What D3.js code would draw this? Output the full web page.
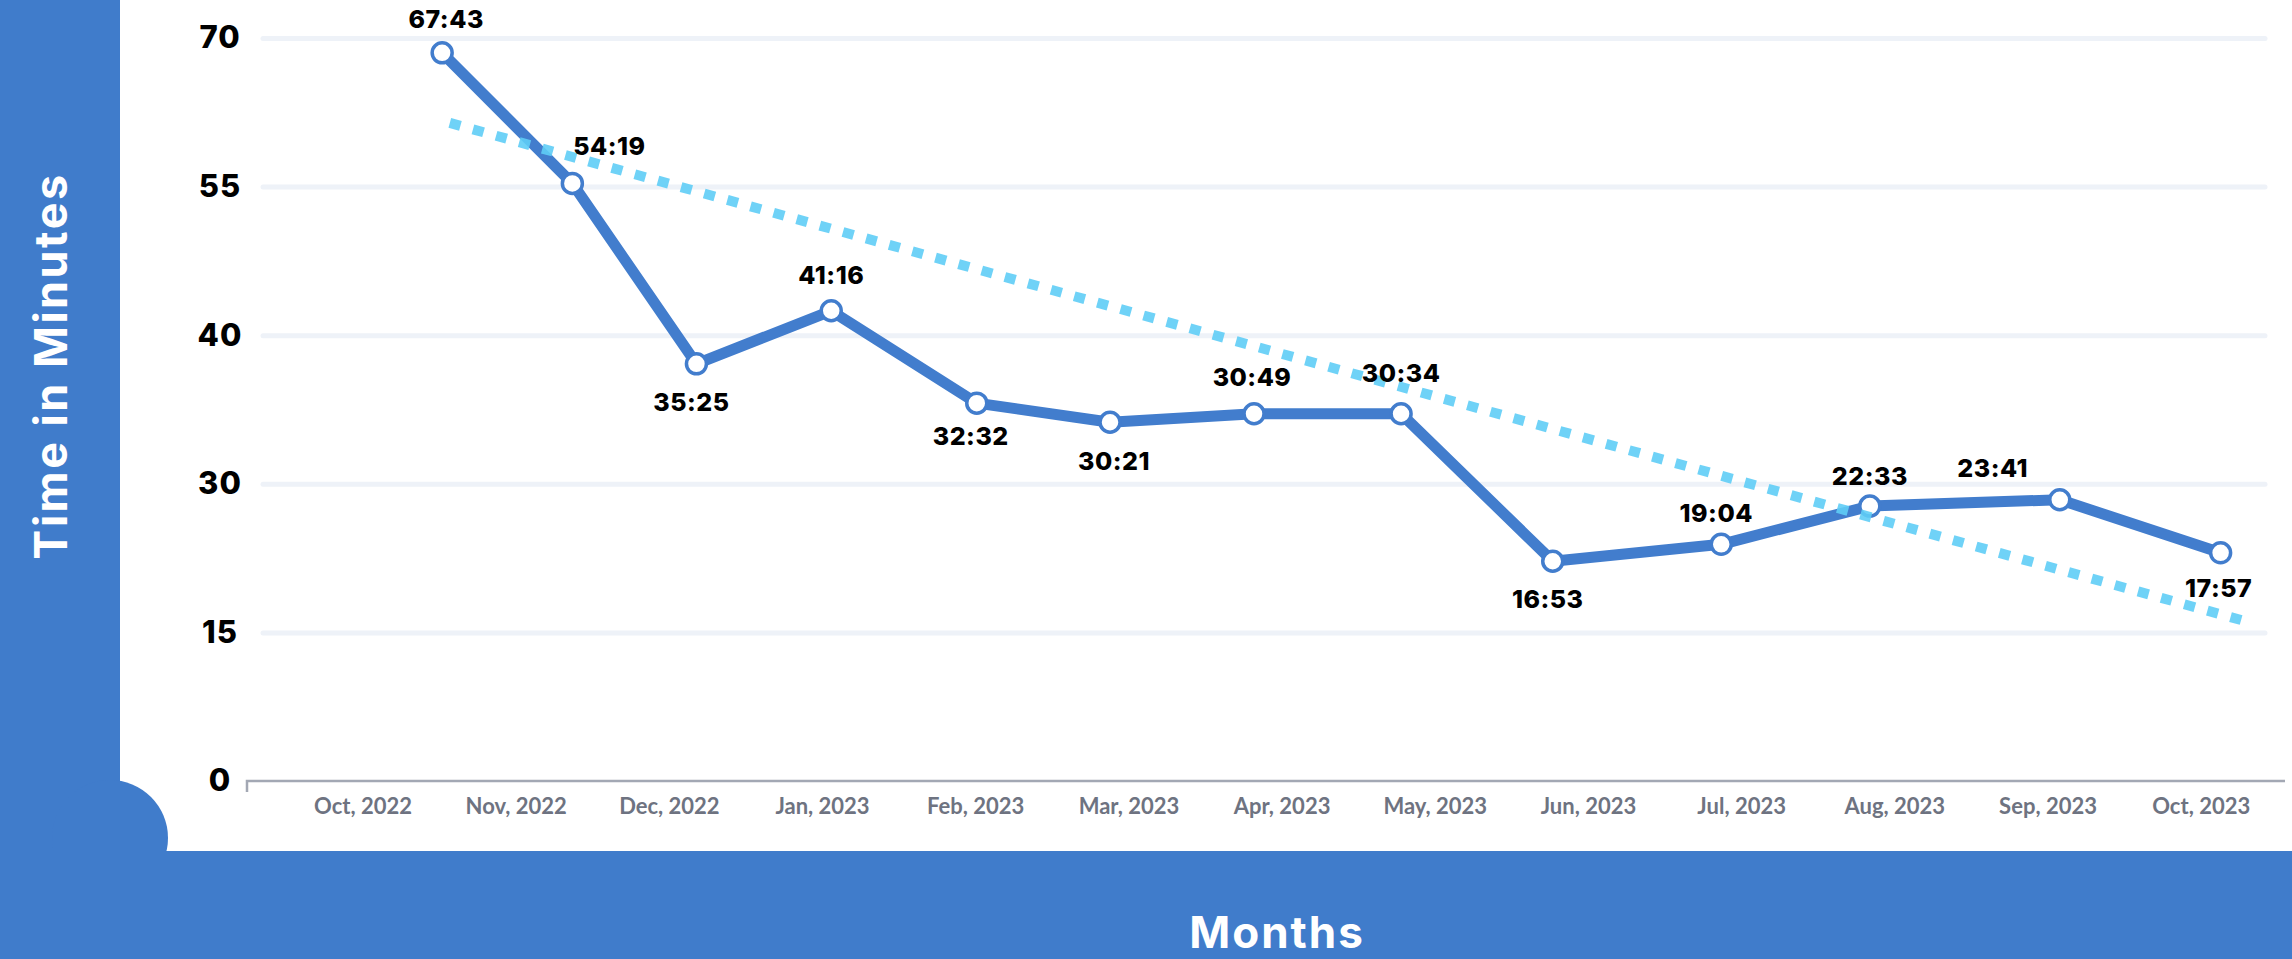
<!DOCTYPE html>
<html>
<head>
<meta charset="utf-8">
<script src="https://cdn.jsdelivr.net/npm/d3@7"></script>
<style>
  body { margin: 0; background: #fff; }
  svg { display: block; }
</style>
</head>
<body>
<div id="chart"></div>
<script>
// months on the x axis
const months = ["Oct, 2022", "Nov, 2022", "Dec, 2022", "Jan, 2023", "Feb, 2023", "Mar, 2023",
  "Apr, 2023", "May, 2023", "Jun, 2023", "Jul, 2023", "Aug, 2023", "Sep, 2023", "Oct, 2023"];

// where each point sits along the month axis
const pointPos = [0.52, 1.37, 2.18, 3.06, 4.01, 4.88, 5.82, 6.78, 7.77, 8.87, 9.84, 11.08, 12.13];

// plotted height of each point, in axis units
const plotted = [68.6, 56.3, 39.3, 44.3, 35.6, 33.8, 34.6, 34.6, 20.7, 22.3, 25.9, 26.5, 21.5];

// the value labels printed on the points (mm:ss)
const timeLabels = ["67:43", "54:19", "35:25", "41:16", "32:32", "30:21", "30:49",
  "30:34", "16:53", "19:04", "22:33", "23:41", "17:57"];

// y ticks and the text shown next to them
const yTickValues = [0, 14, 28, 42, 56, 70];
const yTickLabels = ["0", "15", "30", "40", "55", "70"];

// dotted trend line, start and end
const trendPos = [0.57, 12.28];
const trendVals = [62.0, 15.1];

// label placement (layout only)
const labelNudge = [[4, -34], [37, -37], [-5, 38], [0, -36], [-6, 33], [4, 39], [-2, -37],
  [0, -41], [-5, 38], [-5, -31], [0, -30], [-67, -32], [-2, 35]];

const W = 2292, H = 959;
const blue = "#407CCB";

const svg = d3.select("#chart").append("svg")
  .attr("width", W)
  .attr("height", H);

// blue frame: left strip, bottom band and the round bump
svg.append("rect").attr("x", 0).attr("y", 0).attr("width", 120).attr("height", 860).attr("fill", blue);
svg.append("circle").attr("cx", 110).attr("cy", 838).attr("r", 58).attr("fill", blue);
svg.append("rect").attr("x", 0).attr("y", 851).attr("width", W).attr("height", H - 851).attr("fill", blue);

const x = d3.scaleLinear().domain([0, 12]).range([362.5, 2200.7]);
const y = d3.scaleLinear().domain([0, 70]).range([781, 38]);

// grid lines
svg.append("g")
  .attr("transform", "translate(263,0)")
  .call(d3.axisLeft(y).tickValues(yTickValues.filter(v => v > 0)).tickSize(-(2265 - 263)).tickFormat(""))
  .call(g => g.select(".domain").remove())
  .call(g => g.selectAll("line")
    .attr("stroke", "#EEF2F8")
    .attr("stroke-width", 5)
    .attr("stroke-linecap", "round"));

// y tick labels
svg.append("g")
  .attr("transform", "translate(220,0)")
  .call(d3.axisLeft(y).tickValues(yTickValues).tickSize(0).tickPadding(0)
    .tickFormat((d, i) => yTickLabels[i]))
  .call(g => g.select(".domain").remove())
  .call(g => g.selectAll("text")
    .attr("text-anchor", "middle")
    .attr("font-family", "Inter, sans-serif")
    .attr("font-weight", 800)
    .attr("font-size", 31)
    .attr("letter-spacing", 1)
    .attr("fill", "#000"));

// x axis line with the little tick at the left end
svg.append("path")
  .attr("d", `M247,792V${y(0)}H2285`)
  .attr("fill", "none")
  .attr("stroke", "#A3A8B4")
  .attr("stroke-width", 2.5);

svg.append("g")
  .attr("transform", `translate(0,${y(0)})`)
  .call(d3.axisBottom(x).tickValues(d3.range(months.length)).tickSize(0).tickPadding(17)
    .tickFormat(i => months[i]))
  .call(g => g.select(".domain").remove())
  .call(g => g.selectAll("text")
    .attr("font-family", "Lato, sans-serif")
    .attr("font-weight", 700)
    .attr("font-size", 22)
    .attr("fill", "#6E7381"));

// main line
const line = d3.line()
  .x((d, i) => x(pointPos[i]))
  .y(d => y(d));

svg.append("path")
  .datum(plotted)
  .attr("d", line)
  .attr("fill", "none")
  .attr("stroke", "#427DCD")
  .attr("stroke-width", 11)
  .attr("stroke-linejoin", "round");

svg.append("g")
  .selectAll("circle")
  .data(plotted)
  .join("circle")
  .attr("cx", (d, i) => x(pointPos[i]))
  .attr("cy", d => y(d))
  .attr("r", 10)
  .attr("fill", "#fff")
  .attr("stroke", "#427DCD")
  .attr("stroke-width", 3.5);

// trend line
svg.append("line")
  .attr("x1", x(trendPos[0])).attr("y1", y(trendVals[0]))
  .attr("x2", x(trendPos[1])).attr("y2", y(trendVals[1]))
  .attr("stroke", "#5FCDF6")
  .attr("stroke-opacity", 0.9)
  .attr("stroke-width", 10)
  .attr("stroke-dasharray", "11 13");

// value labels
svg.append("g")
  .selectAll("text")
  .data(plotted)
  .join("text")
  .attr("x", (d, i) => x(pointPos[i]) + labelNudge[i][0])
  .attr("y", (d, i) => y(d) + labelNudge[i][1])
  .attr("dy", "0.36em")
  .attr("text-anchor", "middle")
  .attr("font-family", "Inter, sans-serif")
  .attr("font-weight", 800)
  .attr("font-size", 25)
  .attr("letter-spacing", 0.5)
  .attr("fill", "#000")
  .text((d, i) => timeLabels[i]);

// axis titles
svg.append("text")
  .attr("transform", "translate(67,366) rotate(-90)")
  .attr("text-anchor", "middle")
  .attr("font-family", "Inter, sans-serif")
  .attr("font-weight", 700)
  .attr("font-size", 45)
  .attr("letter-spacing", 2.5)
  .attr("fill", "#fff")
  .text("Time in Minutes");

svg.append("text")
  .attr("x", 1277)
  .attr("y", 948)
  .attr("text-anchor", "middle")
  .attr("font-family", "Inter, sans-serif")
  .attr("font-weight", 700)
  .attr("font-size", 44)
  .attr("letter-spacing", 2)
  .attr("fill", "#fff")
  .text("Months");
</script>
</body>
</html>
